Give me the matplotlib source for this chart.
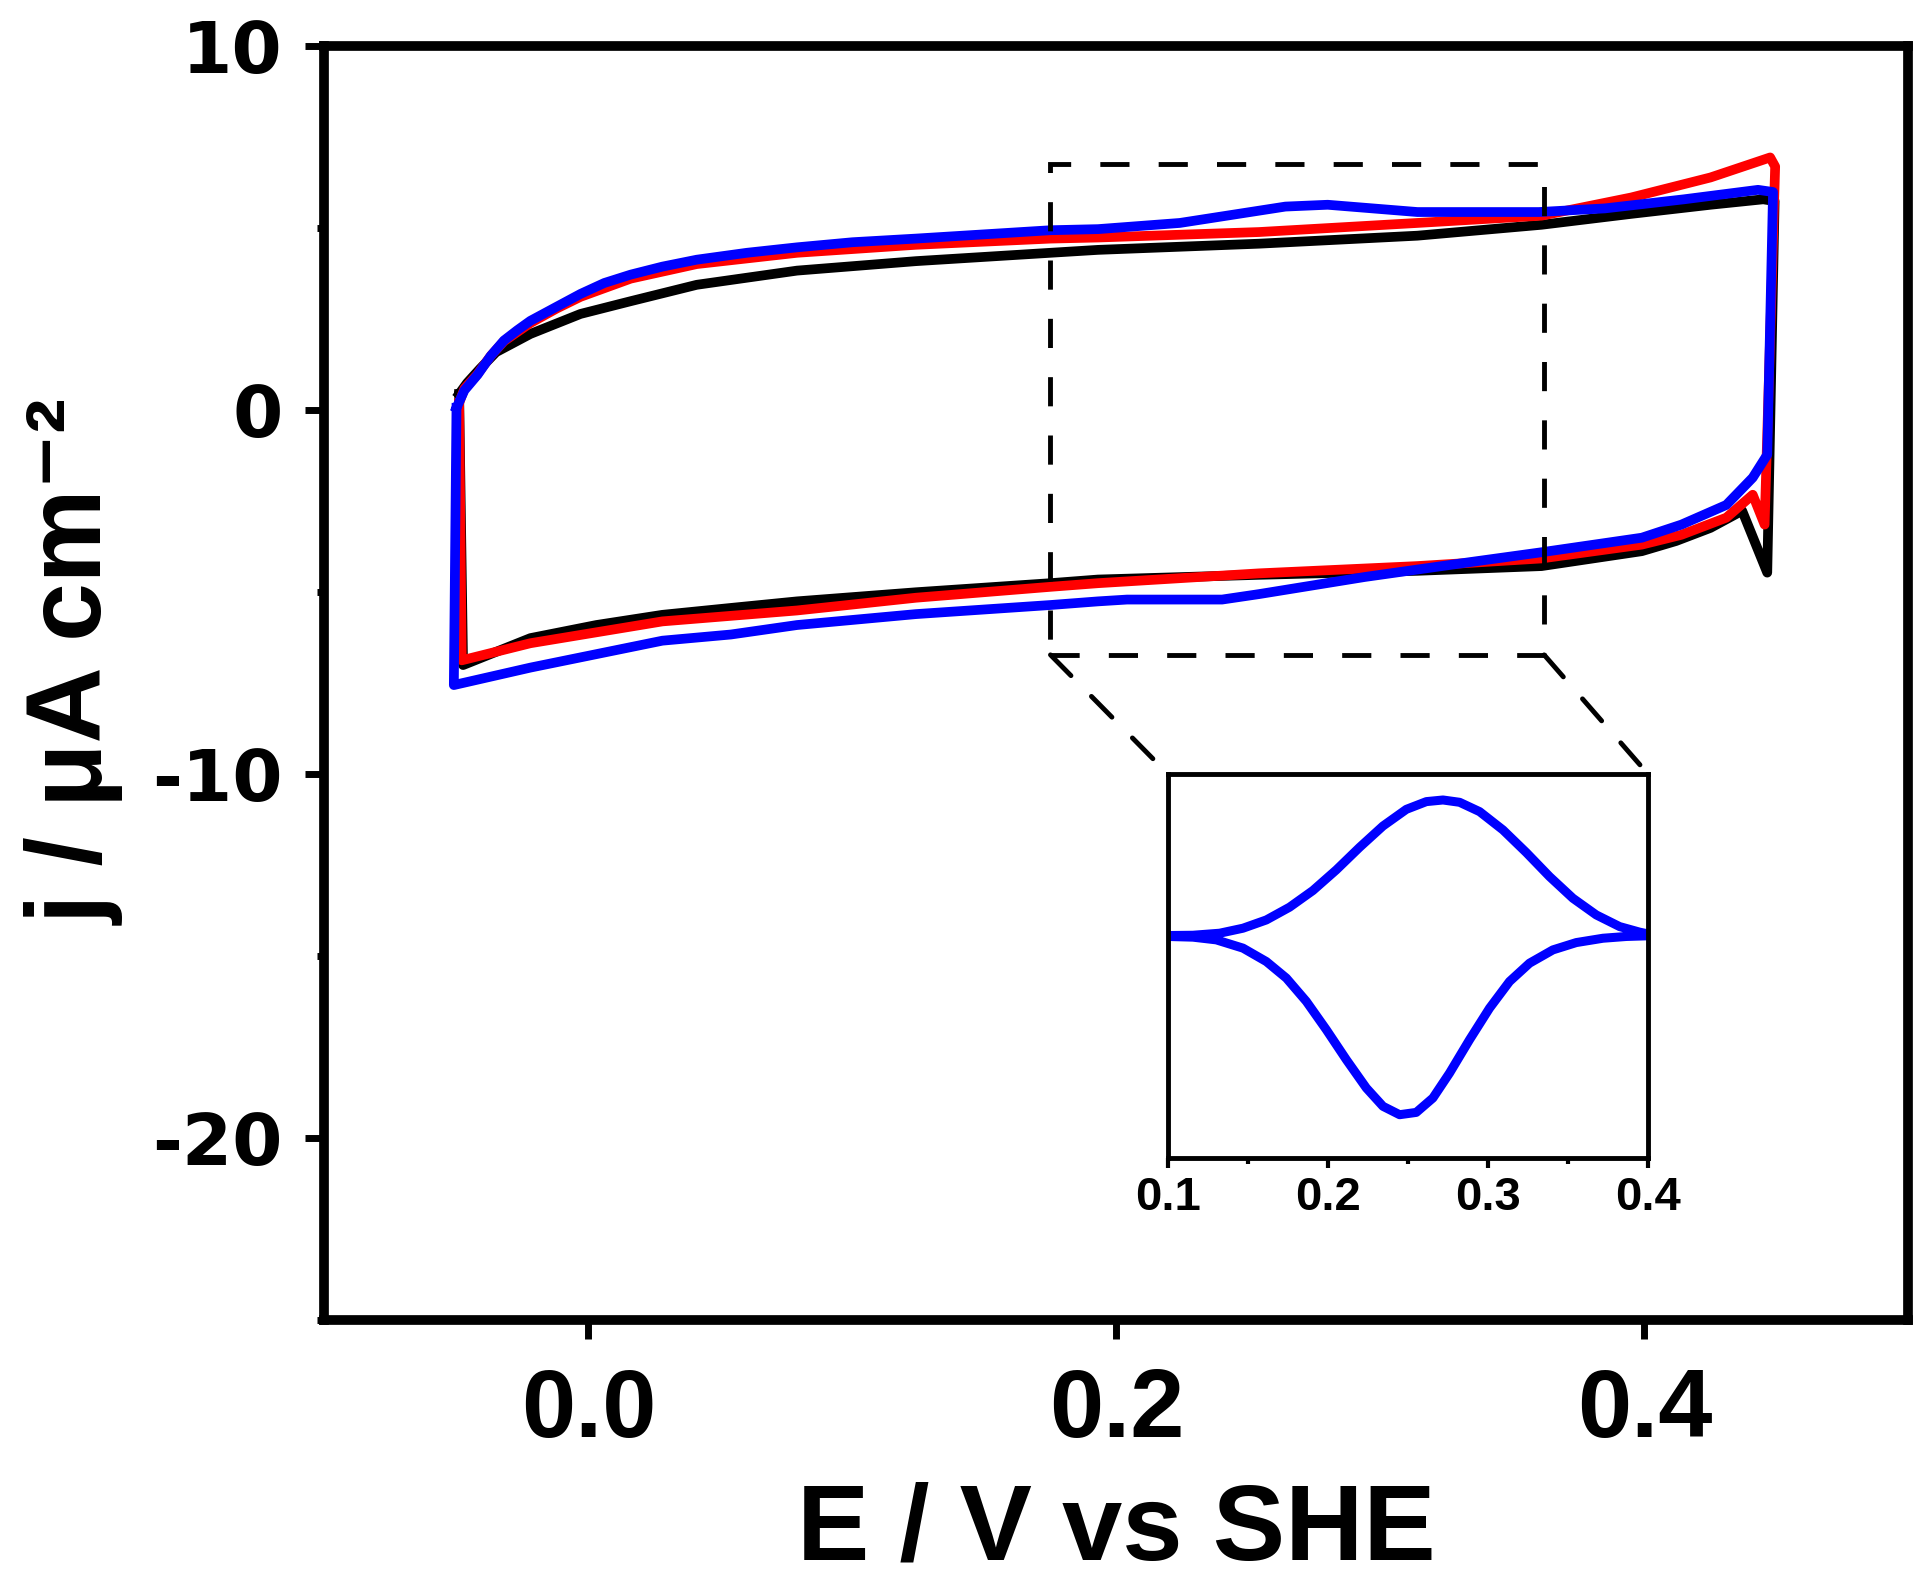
import matplotlib
matplotlib.use("Agg")
import matplotlib.pyplot as plt
from matplotlib.patches import Rectangle, ConnectionPatch
from matplotlib.ticker import MultipleLocator

plt.rcParams["font.family"] = ["Liberation Sans", "DejaVu Sans"]
plt.rcParams["font.weight"] = "bold"
plt.rcParams["axes.unicode_minus"] = False

# black CV
E_black = [-0.049, -0.046, -0.041, -0.035, -0.022, -0.003, 0.016, 0.041, 0.079, 0.124, 0.175, 0.193, 0.254, 0.314,
           0.361, 0.395, 0.425, 0.445, 0.4493, 0.4465, 0.437, 0.425, 0.412, 0.399, 0.361, 0.314, 0.254, 0.193,
           0.175, 0.124, 0.079, 0.054, 0.028, 0.003, -0.022, -0.0475, -0.049]
j_black = [0.45, 0.75, 1.15, 1.6, 2.1, 2.65, 3.0, 3.45, 3.84, 4.1, 4.33, 4.41, 4.58, 4.8,
           5.1, 5.4, 5.65, 5.8, 5.75, -4.46, -2.76, -3.23, -3.59, -3.87, -4.28, -4.41, -4.52, -4.65,
           -4.75, -5.0, -5.25, -5.43, -5.62, -5.9, -6.26, -7.0, 0.45]

# red CV
E_red = [-0.049, -0.047, -0.042, -0.037, -0.032, -0.022, -0.012, -0.003, 0.016, 0.041, 0.079, 0.124, 0.175,
         0.193, 0.254, 0.314, 0.361, 0.395, 0.425, 0.4476, 0.4495, 0.4455, 0.441, 0.431, 0.414, 0.399,
         0.361, 0.314, 0.254, 0.193, 0.175, 0.124, 0.079, 0.028, -0.022, -0.048, -0.049]
j_red = [0.2, 0.6, 1.0, 1.5, 1.9, 2.4, 2.8, 3.12, 3.62, 4.02, 4.33, 4.55, 4.72,
         4.75, 4.9, 5.15, 5.35, 5.85, 6.4, 6.95, 6.7, -3.14, -2.32, -2.95, -3.42, -3.69,
         -4.07, -4.28, -4.48, -4.75, -4.85, -5.15, -5.5, -5.8, -6.4, -6.87, 0.2]

# blue CV
E_blue = [-0.050, -0.047, -0.042, -0.037, -0.032, -0.027, -0.022, -0.012, -0.003, 0.006, 0.016, 0.028, 0.041,
          0.06, 0.079, 0.1, 0.124, 0.175, 0.193, 0.224, 0.264, 0.28, 0.314, 0.36, 0.385, 0.415, 0.443,
          0.4487, 0.4465, 0.441, 0.431, 0.414, 0.399, 0.361, 0.334, 0.294, 0.254, 0.24, 0.204, 0.193,
          0.175, 0.124, 0.079, 0.054, 0.028, 0.003, -0.022, -0.051, -0.050]
j_blue = [0.07, 0.55, 0.98, 1.5, 1.92, 2.2, 2.46, 2.85, 3.2, 3.5, 3.73, 3.95, 4.14,
          4.33, 4.48, 4.62, 4.72, 4.95, 4.98, 5.15, 5.6, 5.65, 5.45, 5.45, 5.55, 5.8, 6.06,
          6.0, -1.22, -1.85, -2.6, -3.14, -3.5, -3.9, -4.17, -4.58, -5.05, -5.2, -5.2, -5.25,
          -5.35, -5.6, -5.9, -6.16, -6.33, -6.7, -7.07, -7.55, 0.07]

# inset (blue, zoomed redox wave)
E_in_up = [0.1, 0.1156, 0.1323, 0.1469, 0.1615, 0.176, 0.1906, 0.2052, 0.2198, 0.2344, 0.249, 0.2615,
           0.2719, 0.2823, 0.2948, 0.3094, 0.324, 0.3385, 0.3531, 0.3677, 0.3823, 0.3948, 0.4]
j_in_up = [0.0, 0.002, 0.017, 0.054, 0.115, 0.209, 0.332, 0.484, 0.651, 0.808, 0.931, 0.988,
           1.0, 0.983, 0.914, 0.779, 0.612, 0.435, 0.275, 0.152, 0.066, 0.025, 0.012]
E_in_dn = [0.4, 0.3865, 0.3719, 0.3552, 0.3406, 0.326, 0.3135, 0.301, 0.2885, 0.276, 0.2656, 0.2552,
           0.2448, 0.2344, 0.224, 0.2115, 0.199, 0.1865, 0.174, 0.1615, 0.1469, 0.1302, 0.1156, 0.1]
j_in_dn = [-0.002, -0.007, -0.02, -0.052, -0.106, -0.204, -0.339, -0.536, -0.769, -1.015, -1.199, -1.305,
           -1.322, -1.26, -1.125, -0.916, -0.695, -0.486, -0.314, -0.192, -0.093, -0.032, -0.012, -0.007]

zoom_box = (0.175, -6.72, 0.362, 6.78)  # E0, j0, E1, j1

fig = plt.figure(figsize=(19.2, 15.86), dpi=100)
ax = fig.add_axes([0.169, 0.1677, 0.825, 0.803])

ax.plot(E_black, j_black, color="black", lw=7, solid_joinstyle="round", zorder=3)
ax.plot(E_red, j_red, color="red", lw=7, solid_joinstyle="round", zorder=4)
ax.plot(E_blue, j_blue, color="blue", lw=7, solid_joinstyle="round", zorder=5)

ax.set_xlim(-0.1, 0.5)
ax.set_ylim(-25, 10)
ax.yaxis.set_major_locator(MultipleLocator(10))
ax.yaxis.set_minor_locator(MultipleLocator(5))
ax.set_xticks([0.0, 0.2, 0.4])
ax.set_xticklabels(["0.0", "0.2", "0.4"])

for s in ax.spines.values():
    s.set_linewidth(7)
ax.tick_params(which="major", direction="out", length=14, width=5)
ax.tick_params(which="minor", direction="out", length=5, width=5)
ax.tick_params(axis="x", pad=20)
ax.tick_params(axis="y", pad=16)
for lab in ax.get_xticklabels():
    lab.set_fontsize(70)
    lab.set_fontweight("bold")
for lab in ax.get_yticklabels():
    lab.set_fontsize(52)
    lab.set_fontweight("bold")
    lab.set_family("DejaVu Sans")

ax.set_xlabel("E / V vs SHE", fontsize=78, fontweight="bold")
ax.set_ylabel("j / μA cm⁻²", fontsize=76, fontweight="bold")
ax.xaxis.set_label_coords(0.5, -0.127)
ax.yaxis.set_label_coords(-0.126, 0.517)

rect = Rectangle((zoom_box[0], zoom_box[1]), zoom_box[2] - zoom_box[0], zoom_box[3] - zoom_box[1],
                 fill=False, edgecolor="black", lw=3.5, linestyle=(0, (6, 6)), zorder=6)
ax.add_patch(rect)

axin = fig.add_axes([0.6083, 0.2699, 0.25, 0.2421])
axin.plot(E_in_up + E_in_dn, j_in_up + j_in_dn, color="blue", lw=6.5, solid_joinstyle="round")
axin.set_xlim(0.1, 0.4)
axin.set_ylim(-1.641, 1.192)
axin.set_xticks([0.1, 0.2, 0.3, 0.4])
axin.set_xticklabels(["0.1", "0.2", "0.3", "0.4"])
axin.xaxis.set_minor_locator(MultipleLocator(0.05))
axin.set_yticks([])
for s in axin.spines.values():
    s.set_linewidth(3.5)
axin.tick_params(which="major", direction="out", length=7, width=3, labelsize=34, pad=6)
axin.tick_params(which="minor", direction="out", length=4, width=3)
for lab in axin.get_xticklabels():
    lab.set_fontweight("bold")

for (xa, ya), (xb, yb) in [((zoom_box[0], zoom_box[1]), (0, 1)), ((zoom_box[2], zoom_box[1]), (1, 1))]:
    con = ConnectionPatch(xyA=(xa, ya), coordsA=ax.transData, xyB=(xb, yb), coordsB=axin.transAxes,
                          color="black", lw=3.5, linestyle=(0, (6, 6)))
    fig.add_artist(con)

fig.savefig("out.png", dpi=100)
